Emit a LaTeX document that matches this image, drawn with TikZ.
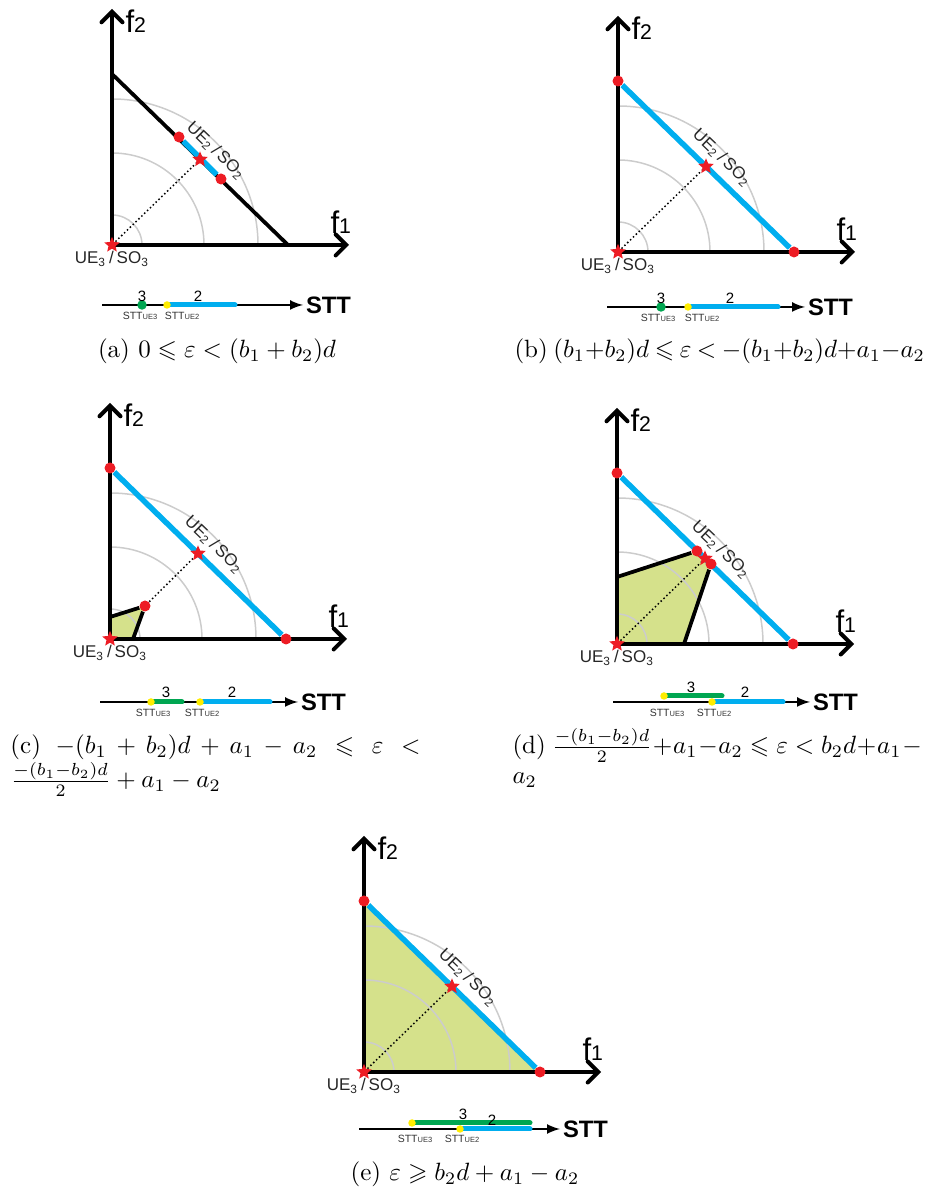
\documentclass[tikz,border=0pt]{standalone}
\usepackage{amsmath}
\usepackage{amssymb}
\usepackage{fontspec}
\newfontfamily\arialf{Liberation Sans}
\usetikzlibrary{arrows,shapes.geometric}
\definecolor{dotred}{RGB}{237,28,36}
\definecolor{lineblue}{RGB}{0,174,239}
\definecolor{sttgreen}{RGB}{0,166,81}
\definecolor{feasgreen}{RGB}{213,225,139}
\definecolor{markyellow}{RGB}{255,237,0}
\newcommand{\fnum}[1]{{\fontsize{8.5pt}{8.5pt}\selectfont #1}}
\newcommand{\sttue}[1]{STT{\fontsize{3pt}{3pt}\selectfont UE#1}}
\newcommand{\ueso}[1]{UE\textsubscript{#1}\,/\,SO\textsubscript{#1}}

\begin{document}
\begin{tikzpicture}[x=0.4pt, y=0.4pt,
    fxaxes/.style={line width=1.6pt, angle 90-angle 90},
    isoline/.style={draw=black!20, line width=0.6pt},
    front/.style={draw=lineblue, line width=2.2pt},
    edgeline/.style={line width=1.5pt, line join=round},
    feasible/.style={fill=feasgreen},
    diag/.style={densely dotted, line width=0.6pt},
    reddot/.style={circle, fill=dotred, inner sep=0pt, minimum size=4.4pt},
    redstar/.style={star, star points=5, star point ratio=2.2, fill=dotred, inner sep=0pt, minimum size=6.5pt},
    ydot/.style={circle, fill=markyellow, inner sep=0pt, minimum size=3pt},
    gdot/.style={circle, fill=sttgreen, inner sep=0pt, minimum size=3.8pt},
    sttline/.style={line width=0.8pt, -latex},
    seg/.style={line width=2pt, line cap=round},
    flab/.style={font=\arialf\fontsize{12.5pt}{12.5pt}\selectfont, inner sep=0pt, anchor=base west},
    uelab/.style={font=\arialf\fontsize{6.8pt}{7pt}\selectfont, inner sep=0pt, text=black!85},
    sttname/.style={font=\arialf\bfseries\fontsize{9.5pt}{10pt}\selectfont, inner sep=1pt, anchor=west},
    numlab/.style={font=\arialf\fontsize{6pt}{6pt}\selectfont, inner sep=0pt},
    sublab/.style={font=\arialf\fontsize{4.2pt}{5pt}\selectfont, inner sep=0pt, text=black!80}]
\useasboundingbox (0,0) rectangle (929,1190);

% feasible regions go under the level curves
\fill[feasible, shift={(110,551)}] (0,0) -- (0,22) -- (35,33) -- (23,0) -- cycle;
\fill[feasible, shift={(617,546)}] (0,0) -- (0,67) -- (80,93) -- (94,80) -- (67,0) -- cycle;
\fill[feasible, shift={(364,118)}] (0,0) -- (0,171) -- (176,0) -- cycle;

% axes, level curves and origin, same in every panel
\foreach \p/\ox/\oy in {a/112/945, b/618/938, c/110/551, d/617/546, e/364/118}{
  \begin{scope}[shift={(\ox,\oy)}]
    \foreach \r in {30,92,146}
      \draw[isoline] (\r,0) arc (0:90:\r);
    \draw[fxaxes] (0,236) -- (0,0) -- (237,0);
    \node[flab] (\p-f2) at (13,212) {f\fnum{2}};
    \node[flab] (\p-f1) at (218,11) {f\fnum{1}};
    \node[uelab] (\p-l3) at (0,-14) {\ueso{3}};
    \node[redstar] (\p-s3) at (0,0) {};
    \coordinate (\p-h) at (88,85.5);
    \node[uelab, rotate=-44] (\p-l2) at (104,94) {\ueso{2}};
  \end{scope}
}

% (a)
\begin{scope}[shift={(112,945)}]
  \coordinate (a-top) at (0,171);
  \coordinate (a-right) at (176,0);
  \draw[edgeline] (a-top) -- (a-right);
  \draw[diag] (a-s3) -- (a-h);
  \node[reddot] (a-p1) at (67,108) {};
  \node[reddot] (a-p2) at (109,66) {};
  \draw[front] (a-p1) -- (a-p2);
  \node[redstar] (a-s2) at (a-h) {};
  \coordinate (a-t0) at (-10,-60);
  \node[sttname] (a-stt) at (191,-60) {STT};
  \draw[sttline] (a-t0) -- (a-stt);
  \draw[seg, lineblue] (55,-60) coordinate (a-y2) -- (123,-60) coordinate (a-b2);
  \node[gdot] (a-g3) at (30,-60) {};
  \node[ydot] (a-m2) at (a-y2) {};
  \node[numlab] (a-n3) at (30,-51) {3};
  \node[numlab] (a-n2) at (86,-51) {2};
  \node[sublab] (a-u3) at (28,-71) {\sttue{3}};
  \node[sublab] (a-u2) at (70,-71) {\sttue{2}};
\end{scope}

% (b)
\begin{scope}[shift={(618,938)}]
  \draw[diag] (b-s3) -- (b-h);
  \node[reddot] (b-top) at (0,171) {};
  \node[reddot] (b-right) at (176,0) {};
  \draw[front] (b-top) -- (b-right);
  \node[redstar] (b-s2) at (b-h) {};
  \coordinate (b-t0) at (-11,-55);
  \node[sttname] (b-stt) at (187,-55) {STT};
  \draw[sttline] (b-t0) -- (b-stt);
  \draw[seg, lineblue] (70,-55) coordinate (b-y2) -- (160,-55) coordinate (b-b2);
  \node[gdot] (b-g3) at (43,-55) {};
  \node[ydot] (b-m2) at (b-y2) {};
  \node[numlab] (b-n3) at (43,-46) {3};
  \node[numlab] (b-n2) at (112,-46) {2};
  \node[sublab] (b-u3) at (40,-66) {\sttue{3}};
  \node[sublab] (b-u2) at (84,-66) {\sttue{2}};
\end{scope}

% (c)
\begin{scope}[shift={(110,551)}]
  \coordinate (c-v1) at (0,22);
  \coordinate (c-v2) at (23,0);
  \node[reddot] (c-q) at (35,33) {};
  \draw[edgeline] (c-v1) -- (c-q) -- (c-v2);
  \draw[diag] (c-q) -- (c-h);
  \node[reddot] (c-top) at (0,171) {};
  \node[reddot] (c-right) at (176,0) {};
  \draw[front] (c-top) -- (c-right);
  \node[redstar] (c-s2) at (c-h) {};
  \coordinate (c-t0) at (-10,-63);
  \node[sttname] (c-stt) at (188,-63) {STT};
  \draw[sttline] (c-t0) -- (c-stt);
  \draw[seg, sttgreen] (41,-63) coordinate (c-y3) -- (72,-63);
  \draw[seg, lineblue] (90,-63) coordinate (c-y2) -- (160,-63);
  \node[ydot] (c-m3) at (c-y3) {};
  \node[ydot] (c-m2) at (c-y2) {};
  \node[numlab] (c-n3) at (56,-53) {3};
  \node[numlab] (c-n2) at (122,-53) {2};
  \node[sublab] (c-u3) at (43,-74) {\sttue{3}};
  \node[sublab] (c-u2) at (92,-74) {\sttue{2}};
\end{scope}

% (d)
\begin{scope}[shift={(617,546)}]
  \coordinate (d-v1) at (0,67);
  \coordinate (d-v2) at (67,0);
  \draw[diag] (d-s3) -- (d-h);
  \node[reddot] (d-top) at (0,171) {};
  \node[reddot] (d-right) at (176,0) {};
  \draw[front] (d-top) -- (d-right);
  \node[reddot] (d-q1) at (80,93) {};
  \node[reddot] (d-q2) at (94,80) {};
  \draw[edgeline] (d-v1) -- (d-q1);
  \draw[edgeline] (d-q2) -- (d-v2);
  \node[redstar] (d-s2) at (d-h) {};
  \coordinate (d-t0) at (-4,-58);
  \node[sttname] (d-stt) at (193,-58) {STT};
  \draw[sttline] (d-t0) -- (d-stt);
  \draw[seg, sttgreen] (47,-52) coordinate (d-y3) -- (105,-52);
  \draw[seg, lineblue] (95,-58) coordinate (d-y2) -- (166,-58);
  \node[ydot] (d-m3) at (d-y3) {};
  \node[ydot] (d-m2) at (d-y2) {};
  \node[numlab] (d-n3) at (74,-43) {3};
  \node[numlab] (d-n2) at (128,-48) {2};
  \node[sublab] (d-u3) at (50,-69) {\sttue{3}};
  \node[sublab] (d-u2) at (97,-69) {\sttue{2}};
\end{scope}

% (e)
\begin{scope}[shift={(364,118)}]
  \draw[diag] (e-s3) -- (e-h);
  \node[reddot] (e-top) at (0,171) {};
  \node[reddot] (e-right) at (176,0) {};
  \draw[front] (e-top) -- (e-right);
  \node[redstar] (e-s2) at (e-h) {};
  \coordinate (e-t0) at (-5,-57);
  \node[sttname] (e-stt) at (196,-57) {STT};
  \draw[sttline] (e-t0) -- (e-stt);
  \draw[seg, sttgreen] (48,-51) coordinate (e-y3) -- (166,-51);
  \draw[seg, lineblue] (96,-57) coordinate (e-y2) -- (166,-57);
  \node[ydot] (e-m3) at (e-y3) {};
  \node[ydot] (e-m2) at (e-y2) {};
  \node[numlab] (e-n3) at (99,-42) {3};
  \node[numlab] (e-n2) at (128,-48) {2};
  \node[sublab] (e-u3) at (51,-67) {\sttue{3}};
  \node[sublab] (e-u2) at (98,-67) {\sttue{2}};
\end{scope}

% captions
\node[anchor=base] (cap-a) at (217,832) {(a) $0\leqslant\varepsilon<(b_1+b_2)d$};
\node[anchor=base west, inner sep=0pt] (cap-b) at (514,832)
  {\makebox[164pt][s]{\thickmuskip=4mu plus 3mu\medmuskip=0mu plus 1mu
   (b) $(b_1+b_2)d\leqslant\varepsilon<-(b_1+b_2)d+a_1-a_2$}};
\node[anchor=base west, inner sep=0pt] (cap-c) at (10,436)
  {\parbox[t]{164pt}{(c) $-(b_1+b_2)d+a_1-a_2\leqslant\varepsilon<$\linebreak
   $\frac{-(b_1-b_2)d}{2}+a_1-a_2$}};
\node[anchor=base west, inner sep=0pt] (cap-d) at (512,436)
  {\parbox[t]{164pt}{(d) $\frac{-(b_1-b_2)d}{2}+a_1-a_2\leqslant\varepsilon<b_2d+a_1-{}$\linebreak
   $a_2$}};
\node[anchor=base] (cap-e) at (465,9) {(e) $\varepsilon\geqslant b_2d+a_1-a_2$};
\end{tikzpicture}
\end{document}
